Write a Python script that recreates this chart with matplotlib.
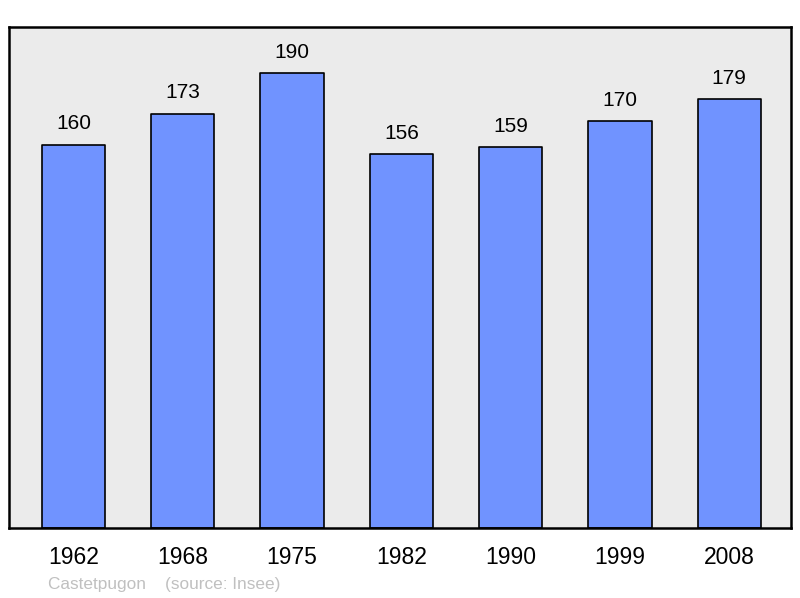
import matplotlib.pyplot as plt

plt.rcParams['font.family'] = ['Liberation Sans', 'DejaVu Sans']

years = ['1962', '1968', '1975', '1982', '1990', '1999', '2008']
population = [160, 173, 190, 156, 159, 170, 179]

fig = plt.figure(figsize=(8, 5.98), dpi=100)
ax = fig.add_axes([9 / 800, 70 / 598, 782 / 800, 501 / 598])
ax.set_facecolor('#ebebeb')

xs = range(len(years))
bars = ax.bar(xs, population, width=0.58, color='#7093ff', edgecolor='black',
              linewidth=1.2, joinstyle='round')
for x, v in zip(xs, population):
    ax.annotate(str(v), (x, v), xytext=(0, 15), textcoords='offset points',
                ha='center', va='center', fontsize=15)

ax.set_xlim(-0.59, 6.565)
ax.set_ylim(0, 209.2)
ax.set_yticks([])
ax.set_xticks(list(xs))
ax.set_xticklabels(years, fontsize=16.5)
ax.tick_params(axis='x', length=0, pad=13)
for s in ax.spines.values():
    s.set_linewidth(1.8)

fig.text(48 / 800, 1 - 585 / 598, 'Castetpugon    (source: Insee)', color='#c0c0c0',
         fontsize=12.4, va='center', ha='left')

fig.savefig('out.png', dpi=100)
